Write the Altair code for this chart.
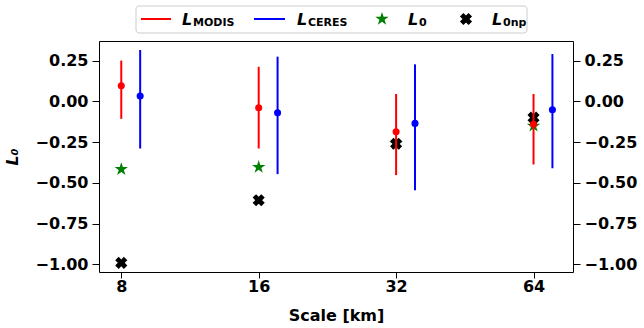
import altair as alt
import pandas as pd

# ---- data ----
scale = [8, 16, 32, 64]
ceres_scale = [8.8, 17.6, 35.2, 70.4]
modis = [0.096, -0.039, -0.187, -0.141]
modis_lo = [-0.107, -0.289, -0.452, -0.387]
modis_hi = [0.250, 0.212, 0.045, 0.045]
ceres = [0.033, -0.070, -0.135, -0.051]
ceres_lo = [-0.289, -0.446, -0.545, -0.410]
ceres_hi = [0.315, 0.274, 0.227, 0.290]
l0 = [-0.416, -0.403, -0.260, -0.150]
l0np = [-0.990, -0.606, -0.260, -0.100]
x_ticks = [8, 16, 32, 64]
y_ticks = [-1.0, -0.75, -0.5, -0.25, 0.0, 0.25]

df = pd.DataFrame({
    "scale": scale, "ceres_scale": ceres_scale,
    "modis": modis, "modis_lo": modis_lo, "modis_hi": modis_hi,
    "ceres": ceres, "ceres_lo": ceres_lo, "ceres_hi": ceres_hi,
    "l0": l0, "l0np": l0np,
})

FONT = "DejaVu Sans"
STAR = ("M0,-1L0.2245,-0.309L0.951,-0.309L0.363,0.118L0.588,0.809L0,0.382"
        "L-0.588,0.809L-0.363,0.118L-0.951,-0.309L-0.2245,-0.309Z")

xscale = alt.Scale(type="log", base=2, domain=[7.15, 78.1], nice=False)
yscale = alt.Scale(domain=[-1.046, 0.37], nice=False, zero=False)

xaxis = alt.Axis(values=x_ticks, format="d", grid=False, title="Scale [km]",
                 tickSize=6, labelPadding=0, titlePadding=13)
yaxis = alt.Axis(values=y_ticks, format=".2f", grid=False, title="L₀",
                 titleFontStyle="italic", tickSize=7, labelPadding=4, titlePadding=15)
yaxis_r = alt.Axis(values=y_ticks, format=".2f", grid=False, title=None,
                   orient="right", tickSize=7, labelPadding=4)

base = alt.Chart(df)
X = alt.X("scale:Q", scale=xscale, axis=xaxis)
XC = alt.X("ceres_scale:Q", scale=xscale, axis=xaxis)

star = base.mark_point(shape=STAR, filled=True, color="#008000", size=200, opacity=1).encode(
    x=X, y=alt.Y("l0:Q", scale=yscale, axis=yaxis))
cross = base.mark_point(shape="cross", angle=45, filled=True, color="black", size=150, opacity=1).encode(
    x=X, y=alt.Y("l0np:Q", scale=yscale, axis=None))
m_rule = base.mark_rule(color="#ff0000", strokeWidth=2).encode(
    x=X, y=alt.Y("modis_lo:Q", scale=yscale, axis=None), y2="modis_hi:Q")
m_pt = base.mark_circle(color="#ff0000", size=50, opacity=1).encode(
    x=X, y=alt.Y("modis:Q", scale=yscale, axis=None))
c_rule = base.mark_rule(color="#0000ff", strokeWidth=2).encode(
    x=XC, y=alt.Y("ceres_lo:Q", scale=yscale, axis=None), y2="ceres_hi:Q")
c_pt = base.mark_circle(color="#0000ff", size=50, opacity=1).encode(
    x=XC, y=alt.Y("ceres:Q", scale=yscale, axis=None))
right = base.mark_point(opacity=0).encode(
    x=X, y=alt.Y("l0:Q", scale=yscale, axis=yaxis_r))

# ---- manual legend (needs subscripts) ----
one = alt.Chart(pd.DataFrame({"a": [0]}))
leg_box = one.mark_rect(fill="white", stroke="#cccccc", strokeWidth=1, cornerRadius=3).encode(
    x=alt.value(37), x2=alt.value(428), y=alt.value(-35), y2=alt.value(-8))

def lline(x1, x2, color):
    return one.mark_rule(color=color, strokeWidth=2).encode(
        x=alt.value(x1), x2=alt.value(x2), y=alt.value(-22))

def ltext(x, main, sub):
    t1 = one.mark_text(text=main, font=FONT, fontSize=16, fontWeight="bold", fontStyle="italic",
                       align="left", baseline="alphabetic", color="black").encode(
        x=alt.value(x), y=alt.value(-16))
    t2 = one.mark_text(text=sub, font=FONT, fontSize=11, fontWeight="bold",
                       align="left", baseline="alphabetic", color="black").encode(
        x=alt.value(x + 11), y=alt.value(-15))
    return [t1, t2]

legend_layers = [leg_box, lline(42, 72, "#ff0000"), lline(155, 186, "#0000ff")]
legend_layers += ltext(83, "L", "MODIS") + ltext(198, "L", "CERES")
legend_layers.append(one.mark_point(shape=STAR, filled=True, color="#008000", size=200, opacity=1).encode(
    x=alt.value(283), y=alt.value(-22)))
legend_layers += ltext(309, "L", "0")
legend_layers.append(one.mark_point(shape="cross", angle=45, filled=True, color="black", size=150, opacity=1).encode(
    x=alt.value(367), y=alt.value(-22)))
legend_layers += ltext(393, "L", "0np")

chart = alt.layer(star, cross, m_rule, m_pt, c_rule, c_pt, right, *legend_layers).resolve_axis(
    y="independent"
).properties(
    width=474, height=231,
    background="white",
    autosize=alt.AutoSizeParams(type="none"),
    padding={"left": 99, "top": 41, "right": 71, "bottom": 56},
).configure_view(stroke="black", strokeWidth=1).configure_axis(
    domain=False, tickColor="black", tickWidth=1,
    labelFont=FONT, labelFontSize=16, labelFontWeight="bold", labelColor="black",
    titleFont=FONT, titleFontSize=16, titleFontWeight="bold", titleColor="black",
)

chart.save("out.html", embed_options={"renderer": "svg", "actions": False})
